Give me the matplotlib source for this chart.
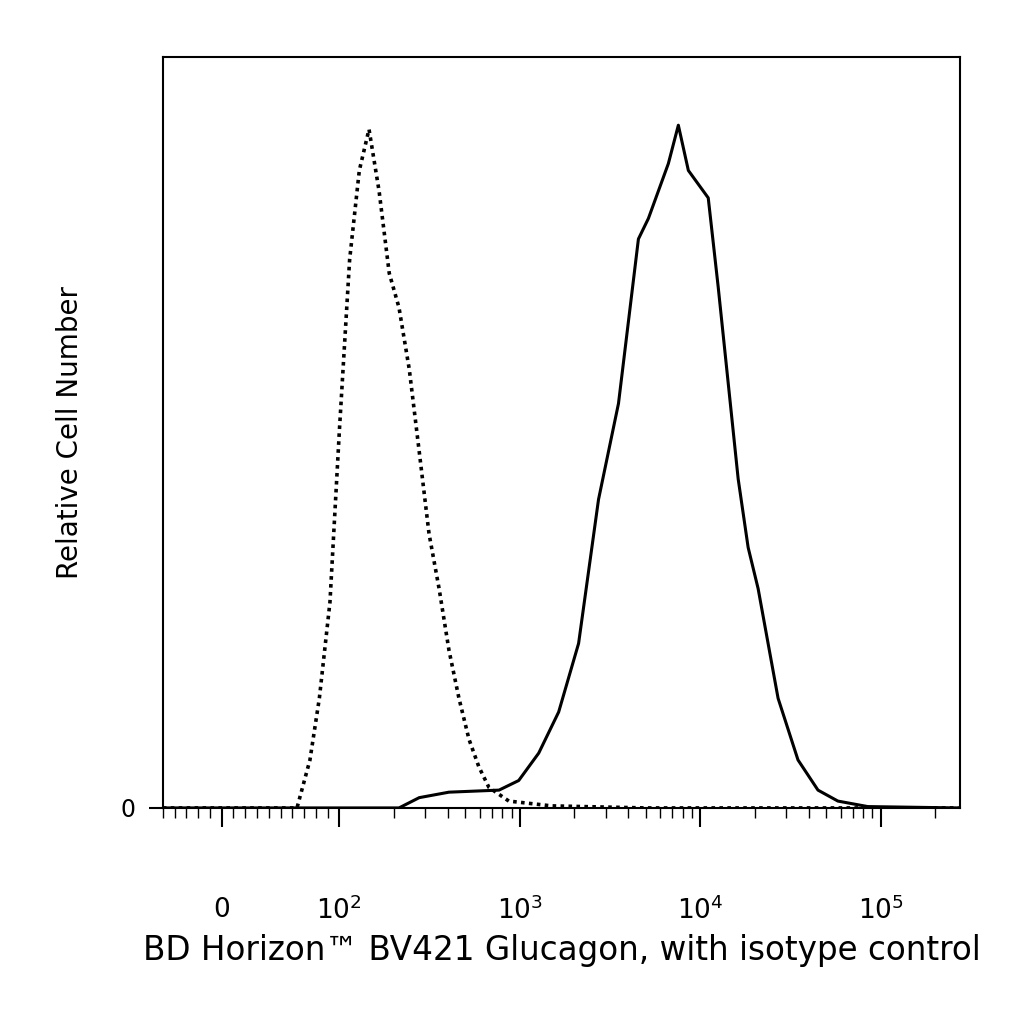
import numpy as np
import matplotlib
matplotlib.use("Agg")
import matplotlib.pyplot as plt

# isotype control (dotted)
iso_x = [-50, 0, 40, 64, 75, 83, 92, 100, 114, 129, 146, 166, 189, 214, 244, 277, 314, 357, 405, 460, 523, 593, 674, 869, 1500, 5000, 2.7e5]
iso_y = [0, 0, 0, 0, 7, 16, 30, 55, 80, 93, 99, 90, 78, 73, 64, 52, 40, 32, 23, 16, 10, 6, 3, 1, 0.3, 0, 0]
# Glucagon stain (solid)
glu_x = [-50, 0, 100, 214, 277, 405, 767, 986, 1273, 1642, 2117, 2730, 3522, 4000, 4542, 5160, 5860, 6655,
         7560, 8590, 9750, 11070, 12570, 14280, 16220, 18420, 20920, 23760, 26990, 34800, 44900, 57900, 84700, 2.7e5]
glu_y = [0, 0, 0, 0, 1.5, 2.3, 2.6, 4, 8, 14, 24, 45, 59, 71, 83, 86, 90, 94,
         99.6, 93, 91, 89, 76, 62, 48, 38, 32, 24, 16, 7, 2.6, 1, 0.2, 0]

fig = plt.figure(figsize=(10.24, 10.24), dpi=100)
ax = fig.add_axes([0.159, 0.211, 0.7785, 0.733])
ax.set_xscale('symlog', linthresh=100, linscale=0.587)
ax.plot(iso_x, iso_y, color='black', lw=2.6, ls=(0, (1, 1.2)))
ax.plot(glu_x, glu_y, color='black', lw=2.2)
ax.set_xlim(-50, 2.75e5)
ax.set_ylim(0, 109.5)
for s in ax.spines.values():
    s.set_linewidth(1.5)

ax.set_xticks([0, 100, 1000, 1e4, 1e5])
ax.set_xticklabels(['0', '$10^2$', '$10^3$', '$10^4$', '$10^5$'], fontsize=19)
minor = list(range(-50, 100, 10)) + [m * 10**d for d in (2, 3, 4, 5) for m in range(2, 10) if m * 10**d < 2.75e5]
ax.set_xticks(minor, minor=True)
ax.tick_params(axis='x', which='major', direction='out', length=14, width=1.5, pad=50)
ax.tick_params(axis='x', which='minor', direction='out', length=7, width=1)
ax.set_yticks([0])
ax.set_yticklabels(['0'], fontsize=17)
ax.tick_params(axis='y', direction='out', length=10, width=1.5, pad=10)
ax.set_xlabel('BD Horizon™ BV421 Glucagon, with isotype control', fontsize=23.5, labelpad=6)
ax.set_ylabel('Relative Cell Number', fontsize=20, labelpad=26)
fig.savefig('out.png', dpi=100)
